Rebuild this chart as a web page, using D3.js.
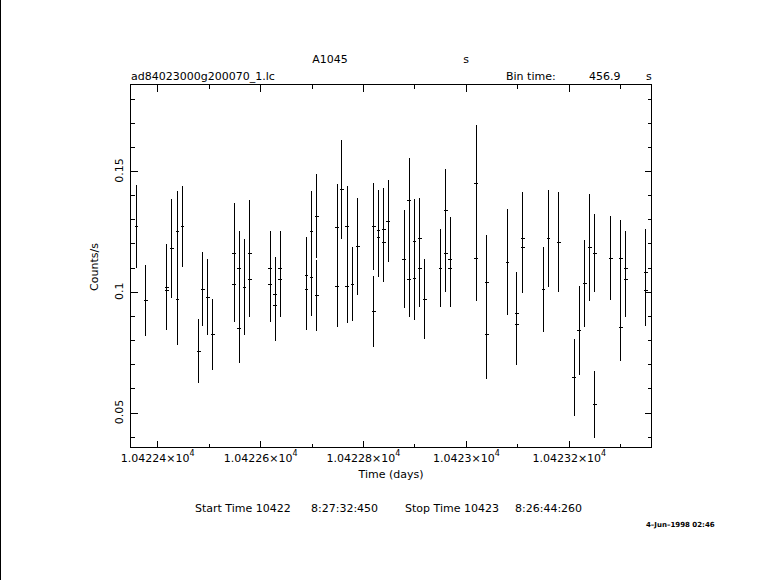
<!DOCTYPE html>
<html>
<head>
<meta charset="utf-8">
<script src="https://cdn.jsdelivr.net/npm/d3@7"></script>
<style>
  html, body { margin: 0; padding: 0; background: #fff; }
  svg { display: block; }
  text { font-family: "DejaVu Sans", sans-serif; fill: #000; }
</style>
</head>
<body>
<svg id="chart" width="781" height="580"></svg>
<script>
// ---- data (time in days, count rate, 1-sigma error) ----
const times = [
  10422.3598, 10422.3778, 10422.4187, 10422.4187, 10422.4284, 10422.4395, 10422.4395, 10422.4492,
  10422.4809, 10422.4886, 10422.4983, 10422.5081, 10422.5493, 10422.5493, 10422.5594, 10422.5594,
  10422.5697, 10422.5800, 10422.5800, 10422.6196, 10422.6196, 10422.6293, 10422.6293, 10422.6391,
  10422.6391, 10422.6902, 10422.6902, 10422.6999, 10422.6999, 10422.7102, 10422.7102, 10422.7495,
  10422.7495, 10422.7588, 10422.7689, 10422.7689, 10422.7796, 10422.7899, 10422.8210, 10422.8210,
  10422.8301, 10422.8301, 10422.8404, 10422.8404, 10422.8490, 10422.8797, 10422.8894, 10422.8894,
  10422.9001, 10422.9001, 10422.9102, 10422.9102, 10422.9201, 10422.9506, 10422.9609, 10422.9609,
  10422.9695, 10422.9695, 10423.0200, 10423.0200, 10423.0406, 10423.0406, 10423.0809, 10423.0989,
  10423.0989, 10423.1106, 10423.1106, 10423.1508, 10423.1605, 10423.1806, 10423.2105, 10423.2202,
  10423.2311, 10423.2408, 10423.2505, 10423.2505, 10423.2816, 10423.3011, 10423.3011, 10423.3108,
  10423.3108, 10423.3497, 10423.3497
];
const rates = [
  0.1269, 0.0963, 0.1017, 0.1005, 0.1178, 0.1248, 0.0967, 0.1269,
  0.0752, 0.1010, 0.0975, 0.0822, 0.1159, 0.1029, 0.1095, 0.0847,
  0.1017, 0.1157, 0.1050, 0.1095, 0.1030, 0.0988, 0.0942, 0.1095,
  0.1050, 0.1066, 0.1008, 0.1248, 0.1058, 0.1311, 0.0983, 0.1265,
  0.1021, 0.1422, 0.1269, 0.1022, 0.1029, 0.1186, 0.1269, 0.0917,
  0.1254, 0.1224, 0.1258, 0.1203, 0.1291, 0.1134, 0.1377, 0.1050,
  0.1207, 0.1054, 0.1219, 0.1095, 0.0967, 0.1095, 0.1335, 0.1157,
  0.1133, 0.1095, 0.1447, 0.1137, 0.1037, 0.0822, 0.1120, 0.0909,
  0.0865, 0.1219, 0.1182, 0.1008, 0.1219, 0.1203, 0.0644, 0.0839,
  0.1033, 0.1182, 0.1157, 0.0532, 0.1137, 0.1137, 0.0852, 0.1095,
  0.1050, 0.1079, 0.1004
];
const errors = [
  0.0171, 0.0146, 0.0179, 0.0163, 0.0206, 0.0167, 0.0188, 0.0168,
  0.0132, 0.0153, 0.0157, 0.0146, 0.0207, 0.0155, 0.0155, 0.0142,
  0.0198, 0.0221, 0.0155, 0.0155, 0.0156, 0.0153, 0.0146, 0.0155,
  0.0155, 0.0160, 0.0168, 0.0167, 0.0159, 0.0175, 0.0146, 0.0179,
  0.0167, 0.0204, 0.0167, 0.0155, 0.0153, 0.0202, 0.0179, 0.0148,
  0.0166, 0.0163, 0.0170, 0.0163, 0.0169, 0.0204, 0.0175, 0.0155,
  0.0175, 0.0173, 0.0167, 0.0159, 0.0166, 0.0161, 0.0171, 0.0159,
  0.0174, 0.0159, 0.0242, 0.0179, 0.0196, 0.0186, 0.0219, 0.0171,
  0.0168, 0.0192, 0.0190, 0.0175, 0.0202, 0.0206, 0.0159, 0.0184,
  0.0181, 0.0221, 0.0161, 0.0138, 0.0173, 0.0159, 0.0139, 0.0155,
  0.0155, 0.0179, 0.0146
];
const binTimeSec = 456.9;

const xMajorTicks = [10422.4, 10422.6, 10422.8, 10423.0, 10423.2];
const xMinorTicks = [10422.5, 10422.7, 10422.9, 10423.1, 10423.3];
const xTickMantissa = ["1.04224", "1.04226", "1.04228", "1.0423", "1.04232"];
const yMajorTicks = [0.05, 0.1, 0.15];
const yTickLabels = ["0.05", "0.1", "0.15"];
const yMinorTicks = [0.04, 0.06, 0.07, 0.08, 0.09, 0.11, 0.12, 0.13, 0.14, 0.16, 0.17, 0.18];

// ---- layout ----
const L = 130, R = 651, T = 84, B = 447;
const svg = d3.select("#chart");

const x = d3.scaleLinear().domain([10422.3481, 10423.3607]).range([L, R]);
const y = d3.scaleLinear().domain([0.03556, 0.1858]).range([B, T]);

// left page border line
svg.append("line").attr("x1", 0.5).attr("x2", 0.5).attr("y1", 0).attr("y2", 580)
  .attr("stroke", "#000").attr("stroke-width", 1);

// frame
svg.append("rect").attr("x", L + 0.5).attr("y", T + 0.5)
  .attr("width", R - L).attr("height", B - T)
  .attr("fill", "none").attr("stroke", "#000").attr("stroke-width", 1)
  .attr("shape-rendering", "crispEdges");

function tickAxis(axisGen, transform) {
  const g = svg.append("g").attr("transform", transform).call(axisGen);
  g.select(".domain").remove();
  g.selectAll("line").attr("stroke", "#000").attr("shape-rendering", "crispEdges");
  g.selectAll("text").remove();
  return g;
}
// inward ticks on all four sides
tickAxis(d3.axisBottom(x).tickValues(xMajorTicks).tickSize(-7), `translate(0.5,${B + 0.5})`);
tickAxis(d3.axisBottom(x).tickValues(xMinorTicks).tickSize(-4), `translate(0.5,${B + 0.5})`);
tickAxis(d3.axisTop(x).tickValues(xMajorTicks).tickSize(-7), `translate(0.5,${T + 0.5})`);
tickAxis(d3.axisTop(x).tickValues(xMinorTicks).tickSize(-4), `translate(0.5,${T + 0.5})`);
tickAxis(d3.axisLeft(y).tickValues(yMajorTicks).tickSize(-7), `translate(${L + 0.5},0.5)`);
tickAxis(d3.axisLeft(y).tickValues(yMinorTicks).tickSize(-4), `translate(${L + 0.5},0.5)`);
tickAxis(d3.axisRight(y).tickValues(yMajorTicks).tickSize(-7), `translate(${R + 0.5},0.5)`);
tickAxis(d3.axisRight(y).tickValues(yMinorTicks).tickSize(-4), `translate(${R + 0.5},0.5)`);

// x tick labels with x10^4
xMajorTicks.forEach((v, i) => {
  const t = svg.append("text").attr("x", x(v) + 1).attr("y", 462)
    .attr("text-anchor", "middle").attr("font-size", 11);
  t.append("tspan").text(xTickMantissa[i] + "\u00d710");
  t.append("tspan").attr("dy", -6).attr("font-size", 8).text("4");
});
// y tick labels (rotated)
yMajorTicks.forEach((v, i) => {
  svg.append("text").attr("transform", `translate(123,${y(v)}) rotate(-90)`)
    .attr("text-anchor", "middle").attr("font-size", 11).text(yTickLabels[i]);
});

// axis titles
svg.append("text").attr("x", 391).attr("y", 478).attr("text-anchor", "middle")
  .attr("font-size", 11).text("Time (days)");
svg.append("text").attr("transform", "translate(98,267) rotate(-90)")
  .attr("text-anchor", "middle").attr("font-size", 11).text("Counts/s");

// header texts
svg.append("text").attr("x", 330).attr("y", 63).attr("text-anchor", "middle").attr("font-size", 11).text("A1045");
svg.append("text").attr("x", 466).attr("y", 63).attr("text-anchor", "middle").attr("font-size", 11).text("s");
svg.append("text").attr("x", 131).attr("y", 80).attr("font-size", 11).text("ad84023000g200070_1.lc");
svg.append("text").attr("x", 506).attr("y", 80).attr("font-size", 11).text("Bin time:");
svg.append("text").attr("x", 589).attr("y", 80).attr("font-size", 11).text("456.9");
svg.append("text").attr("x", 646).attr("y", 80).attr("font-size", 11).text("s");

// footer
svg.append("text").attr("x", 195).attr("y", 512).attr("font-size", 11).text("Start Time 10422");
svg.append("text").attr("x", 311).attr("y", 512).attr("font-size", 11).text("8:27:32:450");
svg.append("text").attr("x", 405).attr("y", 512).attr("font-size", 11).text("Stop Time 10423");
svg.append("text").attr("x", 515).attr("y", 512).attr("font-size", 11).text("8:26:44:260");
svg.append("text").attr("x", 646).attr("y", 527).attr("font-size", 7).attr("font-weight", "bold")
  .text("4\u2013Jun\u20131998 02:46");

// ---- error bars ----
const half = binTimeSec / 2 / 86400;
const pts = times.map((t, i) => ({ t, r: rates[i], e: errors[i] }));
const g = svg.append("g").attr("stroke", "#000").attr("stroke-width", 1).attr("shape-rendering", "crispEdges");
g.selectAll("line.v").data(pts).join("line").attr("class", "v")
  .attr("x1", d => Math.round(x(d.t)) + 0.5).attr("x2", d => Math.round(x(d.t)) + 0.5)
  .attr("y1", d => y(d.r + d.e)).attr("y2", d => y(d.r - d.e));
g.selectAll("line.h").data(pts).join("line").attr("class", "h")
  .attr("x1", d => x(d.t - half)).attr("x2", d => x(d.t + half) + 1)
  .attr("y1", d => Math.round(y(d.r)) + 0.5).attr("y2", d => Math.round(y(d.r)) + 0.5);
</script>
</body>
</html>
